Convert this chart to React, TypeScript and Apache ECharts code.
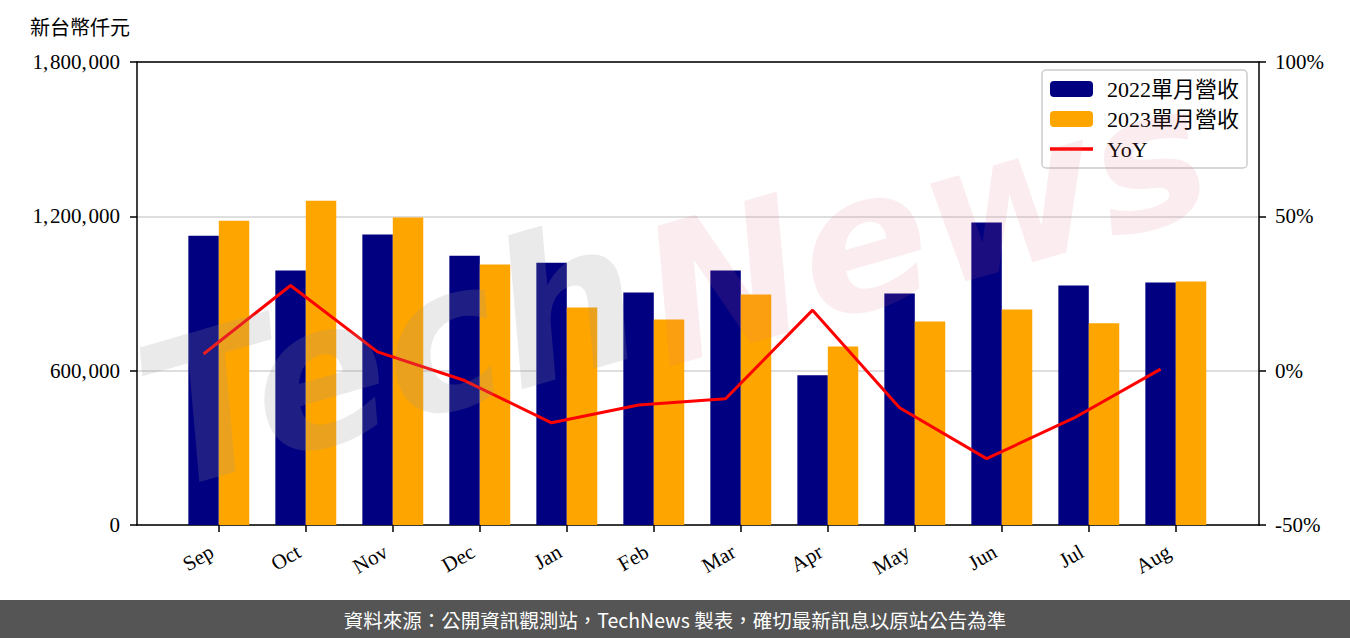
import React, { useEffect, useRef } from "react";
import * as echarts from "echarts";

const months = ["Sep", "Oct", "Nov", "Dec", "Jan", "Feb", "Mar", "Apr", "May", "Jun", "Jul", "Aug"];
const rev2022 = [1125000, 989000, 1129000, 1047000, 1020000, 904000, 989000, 582000, 900000, 1176000, 931000, 943000];
const rev2023 = [1183000, 1261000, 1195000, 1013000, 846000, 799000, 896000, 694000, 791000, 838000, 784000, 947000];
const yoy = [5.4, 27.6, 6.1, -3.2, -16.9, -11.1, -9.1, 19.6, -12.0, -28.5, -15.4, 0.5];
const leftTicks = { min: 0, max: 1800000, interval: 600000 };
const rightTicks = { min: -50, max: 100, interval: 50 };
const names = ["2022單月營收", "2023單月營收", "YoY"];

const SERIF = "'Liberation Serif', 'DejaVu Serif', 'Noto Sans CJK TC', serif";
const CJK = "'Noto Sans CJK TC', 'Noto Sans', sans-serif";

export default function App() {
  const ref = useRef<HTMLDivElement>(null);
  useEffect(() => {
    if (!ref.current) return;
    const chart = echarts.init(ref.current, null, { renderer: "svg" });
    const band = 87;
    const plotLeft = 137;
    const plotTop = 62;
    const plotW = 1122;
    const plotH = 463;
    const sepTick = 218.8;
    const catLeft = sepTick - band / 2;
    const catW = band * 12;
    const barW = band * 0.35;
    const axisLine = { show: true, onZero: false, lineStyle: { color: "#000", width: 1.5 } };
    const axisTick = { show: true, length: 7, lineStyle: { color: "#000", width: 1.5 } };
    const labelStyle = { color: "#000", fontSize: 21, fontFamily: SERIF };
    const frameX = (position: string) => ({
      gridIndex: 0,
      type: "value",
      min: 0,
      max: 1,
      position,
      axisLine,
      axisTick: { show: false },
      axisLabel: { show: false },
      splitLine: { show: false },
    });

    chart.setOption({
      animation: false,
      backgroundColor: "#fff",
      grid: [
        { left: plotLeft, top: plotTop, width: plotW, height: plotH },
        { left: catLeft, top: plotTop, width: catW, height: plotH },
        { left: catLeft - barW / 2, top: plotTop, width: catW, height: plotH },
      ],
      xAxis: [
        frameX("bottom"),
        {
          gridIndex: 1,
          type: "category",
          data: months,
          axisLine: { show: false },
          axisTick: { show: true, alignWithLabel: true, length: 7, lineStyle: { color: "#000", width: 1.5 } },
          axisLabel: { ...labelStyle, rotate: 30, margin: 21, padding: [0, 8, 0, 0], interval: 0 },
          splitLine: { show: false },
        },
        { gridIndex: 2, type: "category", data: months, show: false },
        frameX("top"),
      ],
      yAxis: [
        {
          gridIndex: 0,
          type: "value",
          position: "left",
          ...leftTicks,
          axisLine,
          axisTick,
          axisLabel: {
            ...labelStyle,
            margin: 17,
            formatter: (v: number) => v.toLocaleString("en-US").replace(/,/g, ",\u200a"),
          },
          splitLine: { show: true, lineStyle: { color: "#d3d3d3", width: 1.5 } },
        },
        {
          gridIndex: 0,
          type: "value",
          position: "right",
          ...rightTicks,
          axisLine,
          axisTick,
          axisLabel: { ...labelStyle, margin: 16, formatter: (v: number) => `${v}%` },
          splitLine: { show: false },
        },
        { gridIndex: 1, type: "value", ...leftTicks, show: false },
        { gridIndex: 2, type: "value", ...rightTicks, show: false },
      ],
      legend: {
        orient: "vertical",
        right: 1350 - 1247,
        top: 70,
        itemWidth: 43,
        itemHeight: 16,
        itemGap: 8,
        padding: [8, 8, 8, 8],
        borderColor: "#cccccc",
        borderWidth: 1.5,
        borderRadius: 4,
        backgroundColor: "rgba(255,255,255,0.8)",
        textStyle: { color: "#000", fontSize: 22, fontFamily: SERIF, padding: [0, 0, 0, 9] },
        data: [names[0], names[1], { name: names[2], icon: "path://M0,0H43V3.5H0Z" }],
      },
      series: [
        { name: names[0], type: "bar", xAxisIndex: 1, yAxisIndex: 2, data: rev2022, barWidth: barW, barGap: "0%", itemStyle: { color: "#000080" } },
        { name: names[1], type: "bar", xAxisIndex: 1, yAxisIndex: 2, data: rev2023, barWidth: barW, barGap: "0%", itemStyle: { color: "#FFA500" } },
        {
          name: names[2],
          type: "line",
          xAxisIndex: 2,
          yAxisIndex: 3,
          data: yoy,
          symbol: "none",
          itemStyle: { color: "#FF0000" },
          lineStyle: { color: "#FF0000", width: 3 },
          z: 5,
        },
      ],
      graphic: [
        {
          type: "text",
          left: 30,
          top: 16,
          style: { text: "新台幣仟元", fill: "#000", fontSize: 20, fontFamily: CJK },
        },
        {
          type: "text",
          x: 390,
          y: 355,
          rotation: 0.28,
          silent: true,
          z: 100,
          style: {
            text: "Tech",
            fill: "rgba(150,150,150,0.2)",
            fontSize: 200,
            fontStyle: "italic",
            fontWeight: "bold",
            fontFamily: "'DejaVu Sans', sans-serif",
            align: "center",
            verticalAlign: "middle",
          },
        },
        {
          type: "text",
          x: 925,
          y: 225,
          rotation: 0.28,
          silent: true,
          z: 100,
          style: {
            text: "News",
            fill: "rgba(220,110,120,0.12)",
            fontSize: 190,
            fontStyle: "italic",
            fontWeight: "bold",
            fontFamily: "'DejaVu Sans', sans-serif",
            align: "center",
            verticalAlign: "middle",
          },
        },
        {
          type: "rect",
          shape: { x: 0, y: 600, width: 1350, height: 38 },
          style: { fill: "#555555" },
          z: 110,
        },
        {
          type: "text",
          x: 675,
          y: 619,
          z: 111,
          style: {
            text: "資料來源：公開資訊觀測站，TechNews 製表，確切最新訊息以原站公告為準",
            fill: "#fff",
            fontSize: 19.5,
            fontFamily: CJK,
            align: "center",
            verticalAlign: "middle",
          },
        },
      ],
    });
    return () => chart.dispose();
  }, []);
  return <div ref={ref} style={{ position: "absolute", left: 0, top: 0, width: 1350, height: 638 }} />;
}
